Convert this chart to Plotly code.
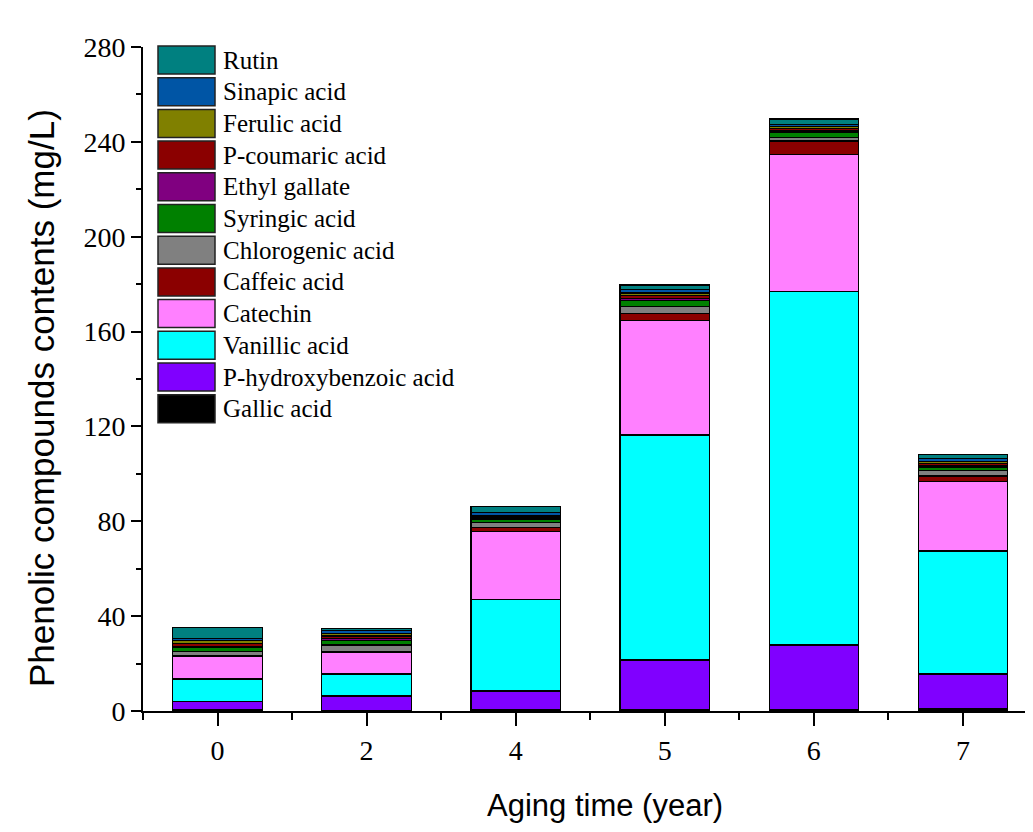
import plotly.graph_objects as go

years = ["0", "2", "4", "5", "6", "7"]

# stacked from bottom to top
compounds = ["Gallic acid", "P-hydroxybenzoic acid", "Vanillic acid", "Catechin",
             "Caffeic acid", "Chlorogenic acid", "Syringic acid", "Ethyl gallate",
             "P-coumaric acid", "Ferulic acid", "Sinapic acid", "Rutin"]

gallic      = [0.5, 0.3, 0.5, 0.8, 0.8, 1.0]
hydroxybenz = [3.5, 6.0, 7.9, 20.7, 27.0, 14.6]
vanillic    = [9.5, 9.3, 38.7, 94.9, 149.2, 51.9]
catechin    = [9.4, 9.0, 28.5, 48.2, 57.8, 29.2]
caffeic     = [0.5, 0.6, 1.8, 3.1, 5.6, 2.4]
chlorogenic = [1.8, 2.6, 2.2, 2.8, 1.6, 2.2]
syringic    = [1.5, 2.0, 1.0, 2.6, 1.8, 1.6]
ethyl       = [0.6, 0.8, 0.8, 1.0, 0.8, 0.6]
coumaric    = [1.2, 1.0, 0.6, 1.2, 1.0, 0.8]
ferulic     = [1.2, 1.0, 0.6, 1.0, 1.0, 0.8]
sinapic     = [0.8, 1.3, 1.0, 1.5, 0.6, 1.5]
rutin       = [4.6, 1.0, 2.6, 1.8, 2.4, 1.6]

series = [gallic, hydroxybenz, vanillic, catechin, caffeic, chlorogenic,
          syringic, ethyl, coumaric, ferulic, sinapic, rutin]
colors = ["#000000", "#8000FF", "#00FFFF", "#FF80FF", "#8B0000", "#808080",
          "#008000", "#800080", "#8B0000", "#808000", "#0055A5", "#008080"]

xpos = list(range(len(years)))

fig = go.Figure()
for name, vals, col in zip(compounds, series, colors):
    fig.add_trace(go.Bar(x=xpos, y=vals, name=name, marker_color=col,
                         marker_line=dict(color="#000000", width=1.2),
                         width=0.6, showlegend=False))

# page offset of 8px (body margin)
OFF = 8
L, T, B = 143 - OFF, 47 - OFF, 121
W, H = 1025, 824
PW = W - L
PH = H - T - B

def px_x(px):
    return (px - OFF - L) / PW

def px_y(py):
    return 1 - (py - OFF - T) / PH

row_h = 31.7
first_cy = 60
shapes = []
annotations = []
for i, (name, col) in enumerate(zip(compounds[::-1], colors[::-1])):
    cy = first_cy + i * row_h
    shapes.append(dict(type="rect", xref="paper", yref="paper",
                       x0=px_x(158), x1=px_x(215), y0=px_y(cy + 14), y1=px_y(cy - 14),
                       fillcolor=col, line=dict(color="#222222", width=1.5)))
    annotations.append(dict(xref="paper", yref="paper", x=px_x(221),
                            y=px_y(cy), text=name, showarrow=False,
                            xanchor="left", yanchor="middle",
                            font=dict(family="Liberation Serif", size=25, color="#000000")))

# axis titles
annotations.append(dict(xref="paper", yref="paper", x=px_x(605), y=px_y(805),
                        text="Aging time (year)", showarrow=False,
                        xanchor="center", yanchor="middle",
                        font=dict(family="Liberation Sans", size=31, color="#000000")))
annotations.append(dict(xref="paper", yref="paper", x=px_x(41), y=px_y(398),
                        text="Phenolic compounds contents (mg/L)", showarrow=False,
                        textangle=-90, xanchor="center", yanchor="middle",
                        font=dict(family="Liberation Sans", size=35, color="#000000")))

fig.update_layout(
    width=W, height=H,
    margin=dict(l=L, r=0, t=T, b=B),
    barmode="stack",
    plot_bgcolor="white", paper_bgcolor="white",
    shapes=shapes, annotations=annotations,
    xaxis=dict(range=[-0.5, 5.47], tickvals=xpos, ticktext=years,
               showline=True, linecolor="#000000", linewidth=2,
               ticks="outside", ticklen=13, tickwidth=2, tickcolor="#000000",
               showgrid=False, zeroline=False,
               minor=dict(tick0=-0.5, dtick=1, ticks="outside", ticklen=7,
                          tickwidth=2, tickcolor="#000000"),
               tickfont=dict(family="Liberation Serif", size=28, color="#000000")),
    yaxis=dict(range=[0, 280], tickvals=[0, 40, 80, 120, 160, 200, 240, 280],
               showline=True, linecolor="#000000", linewidth=2,
               ticks="outside", ticklen=10, tickwidth=2, tickcolor="#000000",
               showgrid=False, zeroline=False,
               minor=dict(dtick=20, ticks="outside", ticklen=5,
                          tickwidth=2, tickcolor="#000000"),
               tickfont=dict(family="Liberation Serif", size=28, color="#000000")),
)

fig.write_html("out.html")
